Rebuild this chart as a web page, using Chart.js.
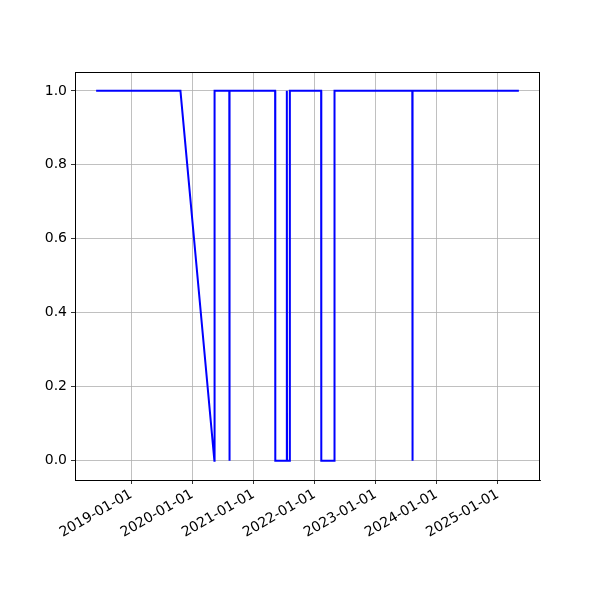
<!DOCTYPE html>
<html>
<head>
<meta charset="utf-8">
<script src="https://cdn.jsdelivr.net/npm/chart.js@4"></script>
<style>
  body { margin: 0; background: #fff; }
</style>
</head>
<body>
<canvas id="myChart" width="600" height="600"></canvas>
<script>
// dates of the points (daily data, so each jump is one day wide)
const dates = [
    '2018-06-05', '2019-10-22', '2020-05-12', '2020-05-13',
    '2020-08-09', '2020-08-10', '2020-08-11', '2021-05-10',
    '2021-05-11', '2021-07-18', '2021-07-19', '2021-07-20',
    '2021-08-05', '2021-08-06', '2022-02-09', '2022-02-10',
    '2022-04-29', '2022-04-30', '2023-08-08', '2023-08-09',
    '2023-08-10', '2025-05-06'
];
const values = [
    1, 1, 0, 1,
    1, 0, 1, 1,
    0, 0, 1, 0,
    0, 1, 1, 0,
    0, 1, 1, 0,
    1, 1
];
const xTickLabels = ['2019-01-01', '2020-01-01', '2021-01-01', '2022-01-01', '2023-01-01', '2024-01-01', '2025-01-01'];
const yTicks = [0.0, 0.2, 0.4, 0.6, 0.8, 1.0];

const toMs = d => Date.parse(d + 'T00:00:00Z');
const points = dates.map((d, i) => ({ x: toMs(d), y: values[i] }));

// matplotlib style 5% margins
const xFirst = points[0].x, xLast = points[points.length - 1].x;
const xPad = (xLast - xFirst) * 0.05;

const fontSpec = { family: 'DejaVu Sans', size: 14 };

// top and right spines
const frame = {
    id: 'frame',
    afterDraw(chart) {
        const { ctx, chartArea: a } = chart;
        ctx.save();
        ctx.strokeStyle = '#000';
        ctx.lineWidth = 1;
        ctx.strokeRect(Math.round(a.left) + 0.5, Math.round(a.top) + 0.5,
            Math.round(a.right - a.left) - 1, Math.round(a.bottom - a.top));
        ctx.restore();
    }
};

const ctx = document.getElementById('myChart');
new Chart(ctx, {
    type: 'line',
    data: {
        datasets: [{
            data: points,
            borderColor: '#0000ff',
            borderWidth: 2,
            pointRadius: 0,
            tension: 0,
            fill: false
        }]
    },
    options: {
        responsive: false,
        animation: false,
        layout: { padding: { top: 72, right: 60, left: 0, bottom: 0 } },
        plugins: { legend: { display: false }, tooltip: { enabled: false } },
        scales: {
            x: {
                type: 'linear',
                min: xFirst - xPad,
                max: xLast + xPad,
                afterBuildTicks(scale) {
                    scale.ticks = xTickLabels.map(t => ({ value: toMs(t) }));
                },
                afterFit(scale) { scale.height = 120; },
                ticks: {
                    autoSkip: false,
                    minRotation: 30,
                    maxRotation: 30,
                    color: '#000',
                    font: fontSpec,
                    padding: 2,
                    callback: v => new Date(v).toISOString().slice(0, 10)
                },
                grid: { color: '#b0b0b0', lineWidth: 0.8, tickColor: '#000', tickLength: 4 },
                border: { color: '#000', width: 1 }
            },
            y: {
                type: 'linear',
                min: -0.052,
                max: 1.051,
                afterBuildTicks(scale) {
                    scale.ticks = yTicks.map(v => ({ value: v }));
                },
                afterFit(scale) { scale.width = 75; },
                ticks: {
                    color: '#000',
                    font: fontSpec,
                    padding: 4,
                    callback: v => v.toFixed(1)
                },
                grid: { color: '#b0b0b0', lineWidth: 0.8, tickColor: '#000', tickLength: 4 },
                border: { color: '#000', width: 1 }
            }
        }
    },
    plugins: [frame]
});
</script>
</body>
</html>
